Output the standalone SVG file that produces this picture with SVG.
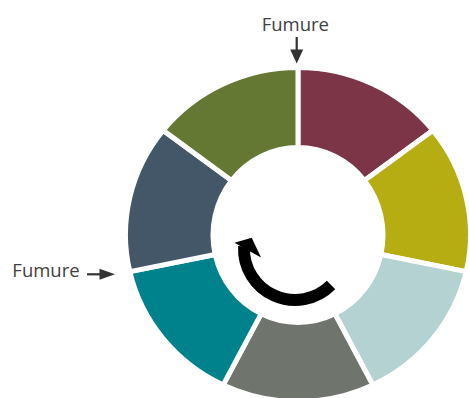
<svg xmlns="http://www.w3.org/2000/svg" width="469" height="398" viewBox="0 0 469 398">
  <defs>
    <style>
      .seg { stroke: #ffffff; stroke-width: 5; stroke-linejoin: miter; }
      .lbl { font-family: "Open Sans", "DejaVu Sans", sans-serif; font-size: 18.5px; fill: #3f3f3f; }
      .ptr { stroke: #333333; stroke-width: 2.2; fill: none; }
      .ptrhead { fill: #333333; }
    </style>
  </defs>
  <rect width="469" height="398" fill="#ffffff"/>

  <g id="segment-1">
    <path class="seg" fill="#7c3546" d="M298,67.5 A172.5,167 0 0 1 432.87,130.38 L364.46,180.45 A85,87.5 0 0 0 298,147.5 Z"/>
  </g>
  <g id="segment-2">
    <path class="seg" fill="#b5ad12" d="M432.87,130.38 A172.5,167 0 0 1 466.18,271.66 L380.87,254.47 A85,87.5 0 0 0 364.46,180.45 Z"/>
  </g>
  <g id="segment-3">
    <path class="seg" fill="#b3d2d1" d="M466.18,271.66 A172.5,167 0 0 1 372.85,384.96 L334.88,313.84 A85,87.5 0 0 0 380.87,254.47 Z"/>
  </g>
  <g id="segment-4">
    <path class="seg" fill="#6f756d" d="M372.85,384.96 A172.5,167 0 0 1 223.15,384.96 L261.12,313.84 A85,87.5 0 0 0 334.88,313.84 Z"/>
  </g>
  <g id="segment-5">
    <path class="seg" fill="#00828c" d="M223.15,384.96 A172.5,167 0 0 1 129.82,271.66 L215.13,254.47 A85,87.5 0 0 0 261.12,313.84 Z"/>
  </g>
  <g id="segment-6">
    <path class="seg" fill="#435769" d="M129.82,271.66 A172.5,167 0 0 1 163.13,130.38 L231.54,180.45 A85,87.5 0 0 0 215.13,254.47 Z"/>
  </g>
  <g id="segment-7">
    <path class="seg" fill="#647833" d="M163.13,130.38 A172.5,167 0 0 1 298,67.5 L298,147.5 A85,87.5 0 0 0 231.54,180.45 Z"/>
  </g>

  <g id="cycle-arrow">
    <path d="M331.06,285.06 A51,51 0 0 1 244.07,246.33" fill="none" stroke="#000000" stroke-width="12"/>
    <polygon points="234.5,242.7 251.7,237.8 261,257.5" fill="#000000"/>
  </g>

  <g id="label-top">
    <text class="lbl" x="295.3" y="31" text-anchor="middle">Fumure</text>
  </g>
  <g id="label-left">
    <text class="lbl" x="46" y="277" text-anchor="middle">Fumure</text>
  </g>

  <g id="connectors">
    <line class="ptr" x1="296.7" y1="37" x2="296.7" y2="51"/>
    <polygon class="ptrhead" points="290.2,49.5 303.2,49.5 296.7,63.5"/>
    <line class="ptr" x1="87" y1="274.3" x2="101" y2="274.3"/>
    <polygon class="ptrhead" points="99.5,268.8 99.5,279.8 115,274.3"/>
  </g>
</svg>
